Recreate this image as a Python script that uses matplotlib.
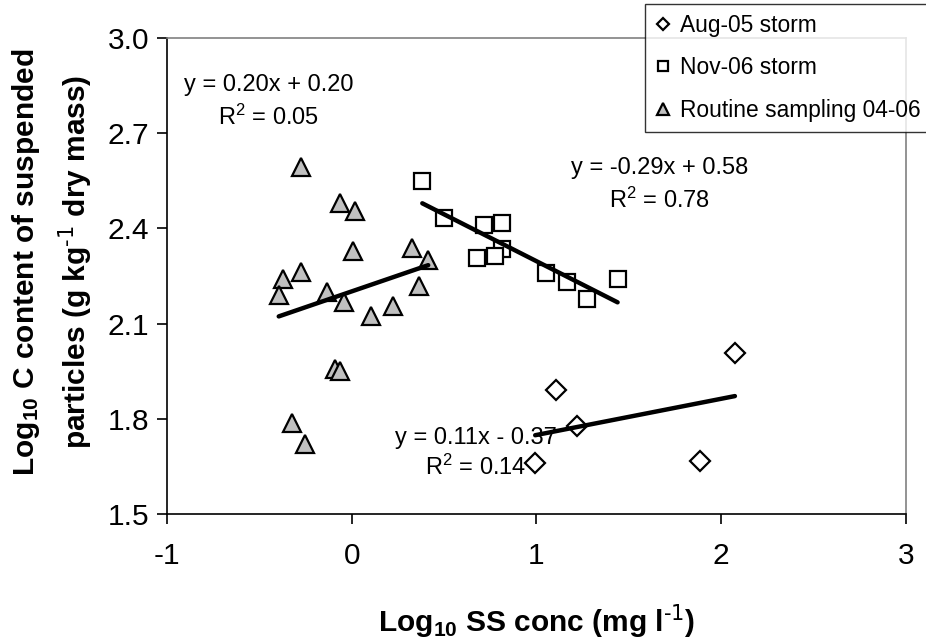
import matplotlib
matplotlib.use("Agg")
import matplotlib.pyplot as plt
import numpy as np

plt.rcParams['font.family'] = ['Liberation Sans', 'DejaVu Sans']
plt.rcParams['mathtext.default'] = 'regular'
plt.rcParams['axes.unicode_minus'] = False

# Data
aug_x = [0.993, 1.104, 1.219, 1.885, 2.074]
aug_y = [1.662, 1.890, 1.777, 1.668, 2.008]

nov_x = [0.382, 0.501, 0.716, 0.812, 0.812, 0.775, 0.680, 1.050, 1.167, 1.275, 1.439]
nov_y = [2.550, 2.432, 2.411, 2.418, 2.335, 2.313, 2.308, 2.258, 2.232, 2.177, 2.240]

rout_x = [-0.276, -0.064, 0.019, 0.009, 0.328, 0.414, 0.364, -0.276, -0.370, -0.395,
          -0.136, -0.040, 0.222, 0.103, -0.091, -0.064, -0.323, -0.253]
rout_y = [2.592, 2.481, 2.455, 2.330, 2.337, 2.300, 2.218, 2.262, 2.239, 2.189,
          2.199, 2.167, 2.156, 2.124, 1.956, 1.951, 1.786, 1.720]

labels = ['Aug-05 storm', 'Nov-06 storm', 'Routine sampling 04-06']
eq_lines = ['y = 0.11x - 0.37', 'y = -0.29x + 0.58', 'y = 0.20x + 0.20']
r2_lines = ['R$^2$ = 0.14', 'R$^2$ = 0.78', 'R$^2$ = 0.05']

fig = plt.figure(figsize=(9.26, 6.43), dpi=100)
ax = fig.add_axes([0.1803, 0.2006, 0.7981, 0.7403])

ax.plot(aug_x, aug_y, linestyle='none', marker='D', ms=9.8, mfc='white', mec='black', mew=1.6, label=labels[0])
ax.plot(nov_x, nov_y, linestyle='none', marker='s', ms=11.5, mfc='white', mec='black', mew=1.6, label=labels[1])
ax.plot(rout_x, rout_y, linestyle='none', marker='^', ms=13, mfc='#c0c0c0', mec='black', mew=1.6, label=labels[2])

for xs, ys in [(aug_x, aug_y), (nov_x, nov_y), (rout_x, rout_y)]:
    xs = np.asarray(xs); ys = np.asarray(ys)
    k, b = np.polyfit(xs, ys, 1)
    xx = np.array([xs.min(), xs.max()])
    ax.plot(xx, k * xx + b, color='black', lw=3.2, solid_capstyle='round', zorder=3)

# equation annotations (Aug, Nov, Routine)
eq_pos = [(0.67, 1.739, 1.648), (1.668, 2.590, 2.489), (-0.448, 2.852, 2.751)]
for (xc, y1, y2), t1, t2 in zip(eq_pos, eq_lines, r2_lines):
    ax.text(xc, y1, t1, fontsize=17, ha='center', va='center')
    ax.text(xc, y2, t2, fontsize=17, ha='center', va='center')

ax.set_xlim(-1, 3)
ax.set_ylim(1.5, 3.0)
ax.set_xticks([-1, 0, 1, 2, 3])
ax.set_yticks([1.5, 1.8, 2.1, 2.4, 2.7, 3.0])
ax.set_yticklabels(['1.5', '1.8', '2.1', '2.4', '2.7', '3.0'])
ax.tick_params(axis='both', labelsize=21.5, direction='out', length=7, width=1.2)
ax.tick_params(axis='x', pad=13)
ax.tick_params(axis='y', pad=6)

for s in ['top', 'right']:
    ax.spines[s].set_color('#808080')
    ax.spines[s].set_linewidth(1.2)
for s in ['left', 'bottom']:
    ax.spines[s].set_color('black')
    ax.spines[s].set_linewidth(1.2)

ax.set_xlabel(r'Log$_{10}$ SS conc (mg l$^{\text{-1}}$)', fontsize=21.5, fontweight='bold')
ax.xaxis.label.set_va('baseline')
ax.xaxis.set_label_coords(0.5, (514 - 631) / 476)

ax.set_ylabel('Log$_{10}$ C content of suspended\n' + r'particles (g kg$^{\text{-1}}$ dry mass)', fontsize=21.5,
              fontweight='bold', linespacing=1.5)
ax.yaxis.label.set_va('center')
ax.yaxis.set_label_coords((52 - 167) / 739, (514 - 262) / 476)

leg = ax.legend(loc='upper left', bbox_to_anchor=(645/926, 1 - 4/643), bbox_transform=fig.transFigure,
                fontsize=16.4, frameon=True, fancybox=False, markerscale=0.62, handlelength=0.7,
                handletextpad=0.4, borderpad=0.45, labelspacing=0.84, borderaxespad=0)
leg.get_frame().set_edgecolor('black')
leg.get_frame().set_linewidth(1.0)

fig.savefig('out.png', dpi=100)
